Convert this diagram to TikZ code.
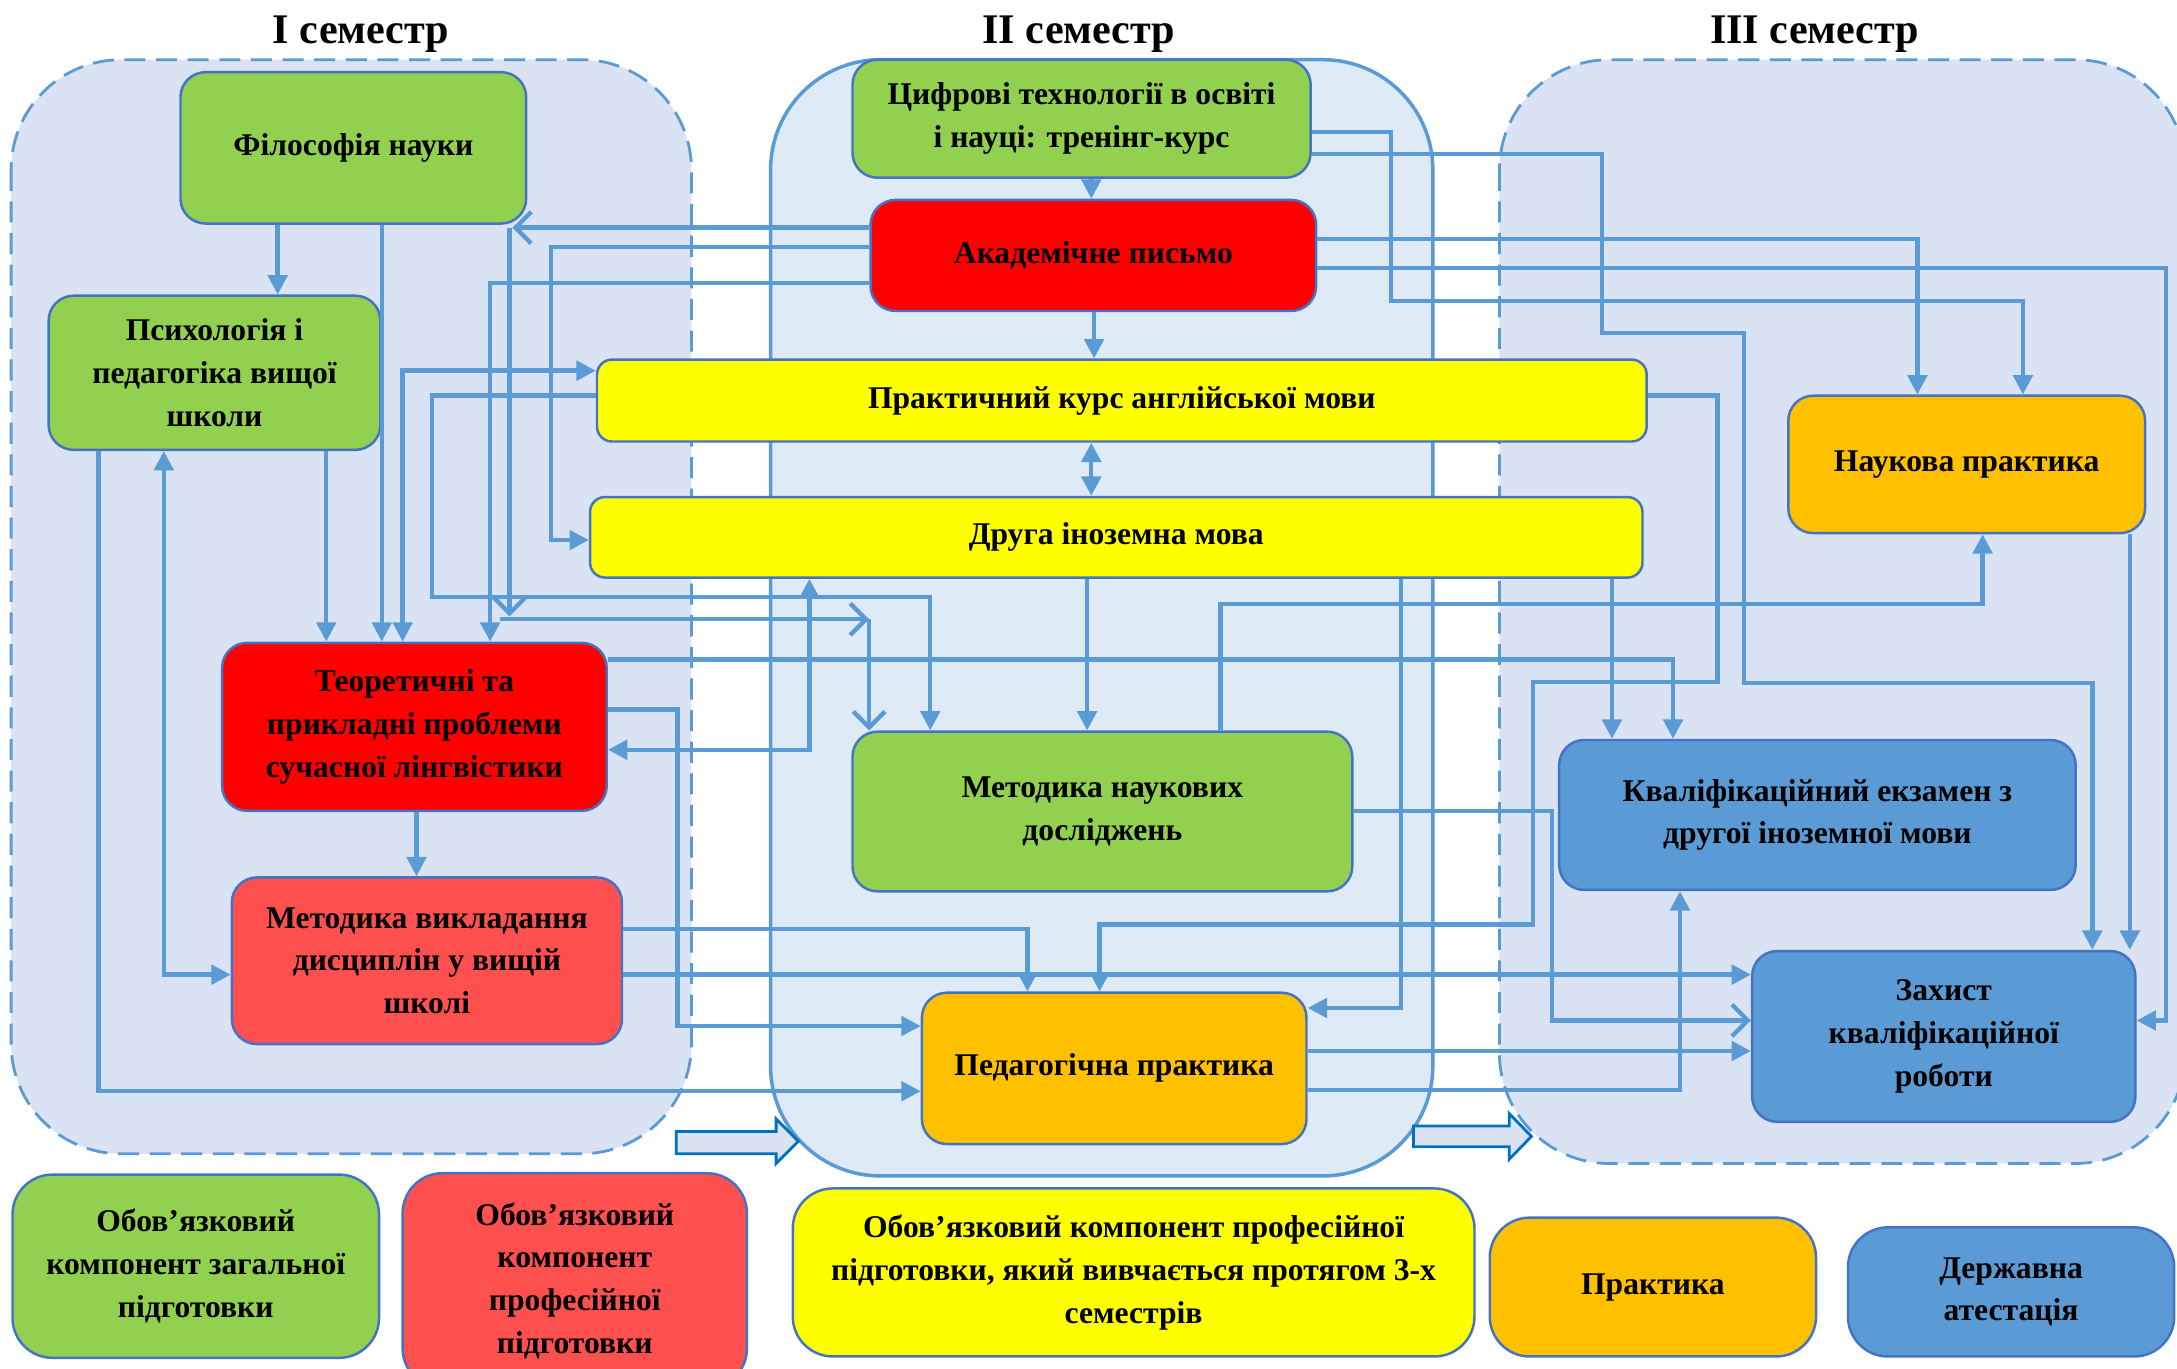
\documentclass[tikz,border=0pt]{standalone}
\usepackage{fontspec}
\setmainfont{Liberation Serif}
\usetikzlibrary{arrows.meta,calc}
\definecolor{cgreen}{HTML}{92D050}
\definecolor{cred}{HTML}{FF0000}
\definecolor{clred}{HTML}{FF5050}
\definecolor{cyel}{HTML}{FFFF00}
\definecolor{corange}{HTML}{FFC000}
\definecolor{cblue}{HTML}{5B9BD5}
\definecolor{cline}{HTML}{5B9BD5}
\definecolor{cborder}{HTML}{4472C4}
\definecolor{semfill}{HTML}{DAE3F3}
\definecolor{semfillb}{HTML}{DEEBF7}
\definecolor{barrow}{HTML}{0070C0}
\tikzset{
  nd/.style={draw=cborder, line width=0.7pt, rounded corners=0.25cm, inner sep=0pt, align=center,
    font=\fontsize{9}{12.2}\selectfont\bfseries},
  ndy/.style={nd, rounded corners=0.15cm},
  lg/.style={nd, rounded corners=0.4cm},
  rect/.style n args={4}{at={({(#1+#3)/2},{(#2+#4)/2})},
    minimum width={(#3-#1)*0.013884cm}, minimum height={(#4-#2)*0.013884cm}},
  sem/.style={draw=cline, line width=0.8pt, dash pattern=on 6pt off 3pt, fill=semfill, rounded corners=1.1cm},
  semsolid/.style={draw=cline, line width=1pt, fill=semfillb, rounded corners=1.1cm},
  ttl/.style={font=\fontsize{12}{14}\selectfont\bfseries, anchor=base},
  con/.style={draw=cline, line width=1.25pt},
  ar/.style={con, -{Triangle[length=5.5pt,width=5.5pt]}},
  ar2/.style={con, {Triangle[length=5.5pt,width=5.5pt]}-{Triangle[length=5.5pt,width=5.5pt]}},
  ob/.style={con, -{Straight Barb[length=4.5pt,width=9pt]}},
  blk/.style={draw=barrow, line width=0.8pt, fill=semfill},
}
\begin{document}
\begin{tikzpicture}[x=0.013884cm,y=-0.013884cm]
\useasboundingbox (0,0) rectangle (1568,986);
\clip (0,0) rectangle (1568,986);
\fill[white] (0,0) rectangle (1568,986);

% semester containers
\path[sem] (8,43) rectangle (498,831);
\path[semsolid] (555,43) rectangle (1032,847);
\path[sem] (1080,43) rectangle (1574,838);

% titles
\node[ttl] (t1) at (260,31) {I семестр};
\node[ttl] (t2) at (777,31) {II семестр};
\node[ttl] (t3) at (1307,31) {III семестр};

% block arrows
\draw[blk] (487,815) -- (559,815) -- (559,806) -- (575,822) -- (559,838) -- (559,831) -- (487,831) -- cycle;
\draw[blk] (1018,811) -- (1087,811) -- (1087,802) -- (1103,818.5) -- (1087,835) -- (1087,826) -- (1018,826) -- cycle;

% nodes
\node[nd, fill=cgreen, rect={130}{52}{379}{161}] (fil) {Філософія науки};
\node[nd, fill=cgreen, rect={35}{213}{274}{324}] (psych) {Психологія і\\педагогіка вищої\\школи};
\node[nd, fill=cred, rect={160}{463}{437}{584}] (teor) {Теоретичні та\\прикладні проблеми\\сучасної лінгвістики};
\node[nd, fill=clred, rect={167}{632}{448}{752}] (mv) {Методика викладання\\дисциплін у вищій\\школі};
\node[nd, fill=cgreen, rect={614}{43}{944}{128}] (cif) {Цифрові технології в освіті\\і науці: тренінг-курс};
\node[nd, fill=cred, rect={627}{144}{948}{224}] (akad) {Академічне письмо};
\node[ndy, fill=cyel, rect={430}{259}{1186}{318}] (eng) {Практичний курс англійської мови};
\node[ndy, fill=cyel, rect={425}{358}{1183}{416}] (druga) {Друга іноземна мова};
\node[nd, fill=cgreen, rect={614}{527}{974}{642}] (mnd) {Методика наукових\\досліджень};
\node[nd, fill=corange, rect={664}{715}{941}{824}] (ped) {Педагогічна практика};
\node[nd, fill=corange, rect={1288}{285}{1545}{384}] (np) {Наукова практика};
\node[nd, fill=cblue, rect={1123}{533}{1495}{641}] (ke) {Кваліфікаційний екзамен з\\другої іноземної мови};
\node[nd, fill=cblue, rect={1262}{685}{1538}{808}] (zah) {Захист\\кваліфікаційної\\роботи};

% legend
\node[lg, fill=cgreen, rect={9}{846}{273}{978}] (l1) {Обов’язковий\\компонент загальної\\підготовки};
\node[lg, fill=clred, rect={290}{845}{538}{1000}] (l2) {Обов’язковий\\компонент\\професійної\\підготовки};
\node[lg, fill=cyel, rect={571}{856}{1062}{977}] (l3) {Обов’язковий компонент професійної\\підготовки, який вивчається протягом 3-х\\семестрів};
\node[lg, fill=corange, rect={1073}{877}{1308}{977}] (l4) {Практика};
\node[lg, fill=cblue, rect={1331}{884}{1566}{977}] (l5) {Державна\\атестація};

% junction coordinates
\coordinate (fa) at (369,164);
\coordinate (ja) at (367,164);
\coordinate (jb) at (367,444);
\coordinate (jc) at (360,446);
\coordinate (jd) at (626,446);

% connectors
\draw[ar] (fil.south -| 200,0) -- (psych.north -| 200,0);
\draw[ar] (fil.south -| 275,0) -- (teor.north -| 275,0);
\draw[ar] (psych.south -| 235,0) -- (teor.north -| 235,0);
\draw[ar2] (teor.north -| 290,0) |- (eng.west |- 0,267);
\draw[ar] (akad.west |- 0,204) -| (teor.north -| 353,0);
\draw[ar] (akad.west |- 0,178) -| (397,389) -- (druga.west |- 0,389);
\draw[ob] (akad.west |- 0,164) -- (fa);
\draw[ob] (ja) -- (jb);
\draw[ob] (jc) -- (jd);
\draw[ob] (jd) -- (mnd.north -| jd);
\draw[ar] (eng.west |- 0,285) -| (311,430) -| (mnd.north -| 670,0);
\draw[ar2] (teor.east |- 0,540) -| (druga.south -| 583,0);
\draw[ar] (teor.south -| 300,0) -- (mv.north -| 300,0);
\draw[ar2] (psych.south -| 118,0) |- (mv.west |- 0,702);
\draw[ar] (psych.south -| 71,0) |- (ped.west |- 0,786);
\draw[ar] (teor.east |- 0,475) -| (ke.north -| 1205,0);
\draw[ar] (teor.east |- 0,511) -| (488,739) -- (ped.west |- 0,739);
\draw[ar] (mv.east |- 0,669) -| (ped.north -| 740,0);
\draw[ar] (mv.east |- 0,702) -- (zah.west |- 0,702);
\draw[ar] (eng.east |- 0,285) -| (1237,491) -| (1104,666) -| (ped.north -| 792,0);
\draw[ar] (druga.south -| 1009,0) |- (ped.east |- 0,726);
\draw[ar] (ped.east |- 0,757) -- (zah.west |- 0,757);
\draw[ar] (ped.east |- 0,785) -| (ke.south -| 1210,0);
\draw[ob] (mnd.east |- 0,584) -| (1118,735) -- (zah.west |- 0,735);
\draw[ar] (mnd.north -| 879,0) |- (1428,435) -- (np.south -| 1428,0);
\draw[ar] (druga.south -| 783,0) -- (mnd.north -| 783,0);
\draw[ar] (druga.south -| 1161,0) -- (ke.north -| 1161,0);
\draw[ar2] (eng.south -| 786,0) -- (druga.north -| 786,0);
\draw[ar] (akad.south -| 788,0) -- (eng.north -| 788,0);
\draw[ar] (cif.south -| 786,0) -- (akad.north -| 786,0);
\draw[ar] (cif.east |- 0,111) -| (1154,240) -| (1256,492) -| (zah.north -| 1507,0);
\draw[ar] (cif.east |- 0,95) -| (1002,217) -| (np.north -| 1457,0);
\draw[ar] (akad.east |- 0,172) -| (np.north -| 1381,0);
\draw[ar] (akad.east |- 0,193) -| (1560,735) -- (zah.east |- 0,735);
\draw[ar] (np.south -| 1534,0) -- (zah.north -| 1534,0);
\end{tikzpicture}
\end{document}
